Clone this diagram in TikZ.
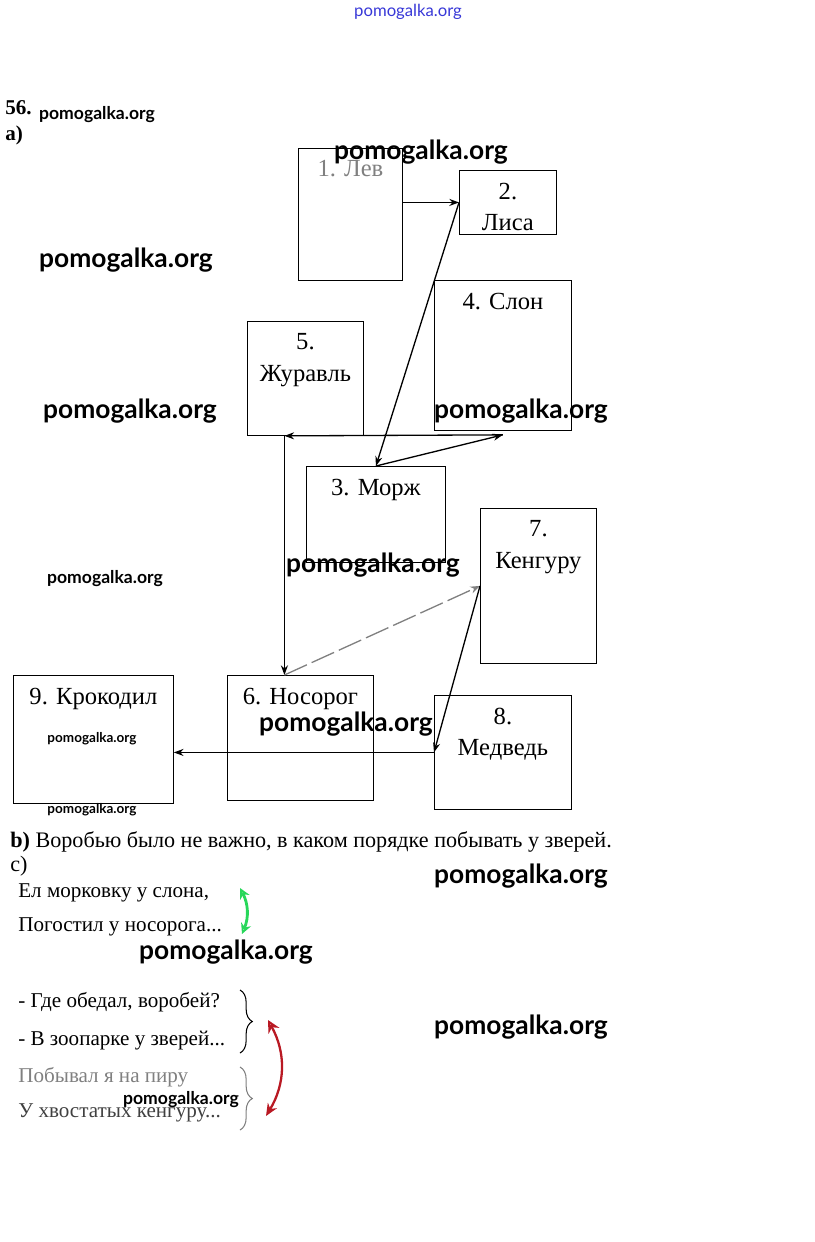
\documentclass[tikz,border=0pt]{standalone}
\usepackage{fontspec}
\setmainfont{Liberation Serif}
\newfontfamily\wmfont{Lato}
\usetikzlibrary{arrows.meta,decorations.pathreplacing}

\definecolor{leaf}{RGB}{40,215,90}
\definecolor{berry}{RGB}{185,25,35}
\definecolor{ink}{RGB}{55,55,215}

\tikzset{
  cage/.style={draw, line width=0.5pt, inner sep=0pt, anchor=north west,
    font=\fontsize{14}{18}\selectfont},
  way/.style={-{Stealth[length=5.5pt,width=4pt]}, line width=0.75pt},
  line/.style={inner sep=0pt, anchor=west, font=\fontsize{12}{14}\selectfont},
  wmbig/.style={font=\wmfont\bfseries\fontsize{15}{18}\selectfont},
  wmmid/.style={font=\wmfont\bfseries\fontsize{10}{12}\selectfont},
  wmsmall/.style={font=\wmfont\bfseries\fontsize{7.7}{9}\selectfont},
  curly/.style={decorate, decoration={brace, amplitude=7pt}, line width=0.6pt}
}
\newcommand{\cell}[3]{\parbox[t][#2][t]{#1}{\centering\vspace*{7pt}#3}}

\begin{document}
\begin{tikzpicture}[x=0.02cm, y=-0.02cm]  %sparrow route
  \useasboundingbox (0,0) rectangle (815,1242);

  \node[font=\wmfont\fontsize{9.5}{11}\selectfont, text=ink] (wm0) at (408,12) {pomogalka.org};

  \node[anchor=west, inner sep=0pt, font=\bfseries\fontsize{12}{14}\selectfont] (num) at (5,108) {56.};
  \node[anchor=west, inner sep=0pt, font=\bfseries\fontsize{12}{14}\selectfont] (parta) at (5,135) {а)};

  % animal cages
  \node[cage] (lev) at (298,148) {\cell{2.08cm}{2.64cm}{\color{gray}1. Лев}};
  \node[cage] (lisa) at (459,170) {\cell{1.94cm}{1.28cm}{2.\\Лиса}};
  \node[cage] (slon) at (434,280) {\cell{2.74cm}{3.0cm}{4. Слон}};
  \node[cage] (zhur) at (247,321) {\cell{2.32cm}{2.28cm}{5.\\Журавль}};
  \node[cage] (morzh) at (306,466) {\cell{2.78cm}{1.92cm}{3. Морж}};
  \node[cage] (kenguru) at (480,508) {\cell{2.32cm}{3.1cm}{7.\\Кенгуру}};
  \node[cage] (kroko) at (13,675) {\cell{3.2cm}{2.56cm}{9. Крокодил}};
  \node[cage] (nosorog) at (227,675) {\cell{2.92cm}{2.5cm}{6. Носорог}};
  \node[cage] (medved) at (434,695) {\cell{2.74cm}{2.28cm}{8.\\Медведь}};

  \coordinate (turn) at ([xshift=-0.42cm]zhur.south);
  \coordinate (slonfoot) at ([yshift=-0.08cm]slon.south);

  \draw[way] (lev.east |- lisa.west) -- (lisa.west);
  \draw[way] (lisa.west) -- (morzh.north);
  \draw[way] (morzh.north) -- (slonfoot);
  \draw[way] (slonfoot) -- (turn);
  \draw[way] (turn) -- (turn |- nosorog.north);
  \draw[way, gray, dash pattern=on 14pt off 3pt] (turn |- nosorog.north) -- (kenguru.west);
  \draw[way] (kenguru.west) -- (medved.west);
  \draw[way] (medved.west) -- (medved.west -| kroko.east);

  % part b and c
  \node[line, font=\fontsize{12.6}{15}\selectfont] (partb) at (10,842) {\textbf{b)} Воробью было не важно, в каком порядке побывать у зверей.};
  \node[line, font=\fontsize{12.6}{15}\selectfont] (partc) at (10,866) {c)};

  \node[line] (r1) at (18,893) {Ел морковку у слона,};
  \node[line] (r2) at (18,927) {Погостил у носорога...};
  \node[line] (r3) at (18,1002) {- Где обедал, воробей?};
  \node[line] (r4) at (18,1041) {- В зоопарке у зверей...};
  \node[line, text=gray] (r5) at (18,1077) {Побывал я на пиру};
  \node[line, text=darkgray] (r6) at (18,1113) {У хвостатых кенгуру...};

  \coordinate (g1) at (240,888);
  \coordinate (g2) at (242,934);
  \draw[leaf, line width=1.6pt, {Stealth[length=6pt,width=6pt,open]}-{Stealth[length=6pt,width=6pt,open]}] (g1) to[bend left=25] (g2);

  \coordinate (b1) at (240,990);
  \coordinate (b2) at (240,1053);
  \coordinate (b3) at (240,1067);
  \coordinate (b4) at (240,1130);
  \draw[curly] (b1) -- (b2);
  \draw[curly, gray] (b3) -- (b4);

  \coordinate (red1) at (268,1020);
  \coordinate (red2) at (266,1116);
  \draw[berry, line width=1.3pt, {Stealth[length=7pt,width=7pt,open]}-{Stealth[length=7pt,width=6pt,open]}] (red1) to[bend left=30] (red2);

  % watermarks
  \node[wmmid] (wm1) at (97,115) {pomogalka.org};
  \node[wmbig] (wm2) at (421,152) {pomogalka.org};
  \node[wmbig] (wm3) at (126,260) {pomogalka.org};
  \node[wmbig] (wm4) at (130,411) {pomogalka.org};
  \node[wmbig] (wm5) at (521,411) {pomogalka.org};
  \node[wmbig] (wm6) at (373,565) {pomogalka.org};
  \node[wmmid] (wm7) at (105,579) {pomogalka.org};
  \node[wmbig] (wm8) at (346,724) {pomogalka.org};
  \node[wmsmall] (wm9) at (92,739) {pomogalka.org};
  \node[wmsmall] (wm10) at (92,810) {pomogalka.org};
  \node[wmbig] (wm11) at (521,876) {pomogalka.org};
  \node[wmbig] (wm12) at (226,952) {pomogalka.org};
  \node[wmbig] (wm13) at (521,1027) {pomogalka.org};
  \node[wmmid] (wm14) at (181,1100) {pomogalka.org};
\end{tikzpicture}
\end{document}
